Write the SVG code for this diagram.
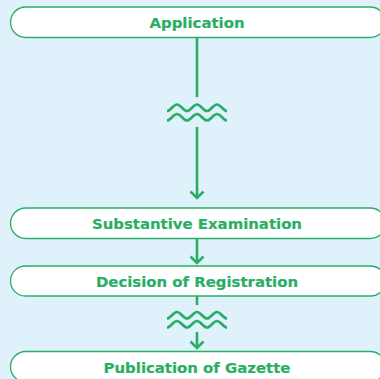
<svg xmlns="http://www.w3.org/2000/svg" xmlns:xlink="http://www.w3.org/1999/xlink" width="380" height="379" viewBox="0 0 380 379">
<style>
.box{fill:#ffffff;stroke:#2aae66;stroke-width:1.3}
.lbl{font-family:"DejaVu Sans",sans-serif;font-weight:bold;font-size:14.9px;fill:#2aae66;stroke:#2aae66;stroke-width:0.2;text-anchor:middle}
.ln{fill:none;stroke:#2aae66;stroke-width:2.6}
.wave{fill:none;stroke:#2aae66;stroke-width:2.6}
</style>
<defs>
<path id="w" d="M167 111 C171 111 173 104.5 177 104.5 S183 111 187 111 S193 104.5 197 104.5 S203 111 207 111 S213 104.5 217 104.5 S223 111 227 111"/>
</defs>
<rect width="380" height="379" fill="#dff1fa"/>
<g id="connectors">
<path class="ln" d="M197 37.5 V97"/>
<use href="#w" xlink:href="#w" class="wave"/>
<use href="#w" xlink:href="#w" class="wave" transform="translate(0,9.5)"/>
<path class="ln" d="M197 127 V198"/>
<path class="ln" d="M190.5 191.5 L197 198 L203.5 191.5"/>
<path class="ln" d="M197 238.5 V263"/>
<path class="ln" d="M190.5 256.5 L197 263 L203.5 256.5"/>
<path class="ln" d="M197 296 V305"/>
<use href="#w" xlink:href="#w" class="wave" transform="translate(0,207.5)"/>
<use href="#w" xlink:href="#w" class="wave" transform="translate(0,216.5)"/>
<path class="ln" d="M197 332 V348"/>
<path class="ln" d="M190.5 341.5 L197 348 L203.5 341.5"/>
</g>
<g id="n-application">
<rect class="box" x="10.5" y="7" width="375" height="30.5" rx="15.25"/>
<text class="lbl" x="197" y="28">Application</text>
</g>
<g id="n-substantive">
<rect class="box" x="10.5" y="208" width="375" height="30.5" rx="15.25"/>
<text class="lbl" x="197" y="229">Substantive Examination</text>
</g>
<g id="n-decision">
<rect class="box" x="10.5" y="266" width="375" height="30" rx="15"/>
<text class="lbl" x="197" y="287">Decision of Registration</text>
</g>
<g id="n-publication">
<rect class="box" x="10.5" y="351.5" width="375" height="30.5" rx="15.25"/>
<text class="lbl" x="197" y="373">Publication of Gazette</text>
</g>
</svg>
